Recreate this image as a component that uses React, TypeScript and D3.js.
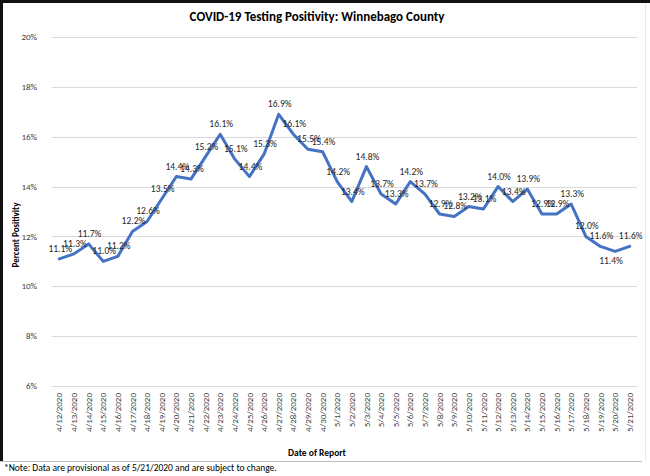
import React, { useEffect, useRef } from 'react';
import * as d3 from 'd3';

const dates = [
  '4/12/2020', '4/13/2020', '4/14/2020', '4/15/2020', '4/16/2020', '4/17/2020', '4/18/2020',
  '4/19/2020', '4/20/2020', '4/21/2020', '4/22/2020', '4/23/2020', '4/24/2020', '4/25/2020',
  '4/26/2020', '4/27/2020', '4/28/2020', '4/29/2020', '4/30/2020', '5/1/2020', '5/2/2020',
  '5/3/2020', '5/4/2020', '5/5/2020', '5/6/2020', '5/7/2020', '5/8/2020', '5/9/2020',
  '5/10/2020', '5/11/2020', '5/12/2020', '5/13/2020', '5/14/2020', '5/15/2020', '5/16/2020',
  '5/17/2020', '5/18/2020', '5/19/2020', '5/20/2020', '5/21/2020',
];

const positivity = [
  11.1, 11.3, 11.7, 11.0, 11.2, 12.2, 12.6, 13.5, 14.4, 14.3, 15.2, 16.1, 15.1, 14.4,
  15.3, 16.9, 16.1, 15.5, 15.4, 14.2, 13.4, 14.8, 13.7, 13.3, 14.2, 13.7, 12.9, 12.8,
  13.2, 13.1, 14.0, 13.4, 13.9, 12.9, 12.9, 13.3, 12.0, 11.6, 11.4, 11.6,
];

const yTicks = [6, 8, 10, 12, 14, 16, 18, 20];

// labels Excel pushed under the line
const labelsBelow = ['5/20/2020'];

const FONT = 'Carlito, Lato, "Liberation Sans", sans-serif';

const App: React.FC = () => {
  const svgRef = useRef<SVGSVGElement>(null);

  useEffect(() => {
    if (!svgRef.current) return;
    const svg = d3.select(svgRef.current);
    svg.selectAll('*').remove();

    const W = 650, H = 476;
    const left = 52, right = 637, top = 37, bottom = 386;

    svg.append('rect').attr('width', W).attr('height', H).attr('fill', '#fff');

    // frame
    svg.append('line').attr('x1', 0).attr('x2', W).attr('y1', 1.5).attr('y2', 1.5)
      .attr('stroke', '#111').attr('stroke-width', 3);
    svg.append('line').attr('x1', 1.5).attr('x2', 1.5).attr('y1', 0).attr('y2', 461)
      .attr('stroke', '#111').attr('stroke-width', 3);
    svg.append('line').attr('x1', 0).attr('x2', 642).attr('y1', 461.5).attr('y2', 461.5)
      .attr('stroke', '#bfbfbf').attr('stroke-width', 1);
    svg.append('line').attr('x1', 645.5).attr('x2', 645.5).attr('y1', 3).attr('y2', 461)
      .attr('stroke', '#e6e6e6').attr('stroke-width', 1);

    const x = d3.scaleBand<string>().domain(dates).range([left, right]);
    const y = d3.scaleLinear().domain([6, 20]).range([bottom, top]);
    const cx = (d: string) => (x(d) ?? 0) + x.bandwidth() / 2;

    // grid
    svg.append('g').selectAll('line').data(yTicks).enter().append('line')
      .attr('x1', left).attr('x2', right)
      .attr('y1', d => Math.round(y(d)) + 0.5).attr('y2', d => Math.round(y(d)) + 0.5)
      .attr('stroke', '#d9d9d9').attr('stroke-width', 1);

    svg.append('g').selectAll('text').data(yTicks).enter().append('text')
      .attr('x', 37).attr('y', d => y(d)).attr('dy', '0.35em')
      .attr('text-anchor', 'end')
      .attr('fill', '#404040').style('font-size', '9px').style('font-family', FONT)
      .text(d => `${d}%`);

    // x tick labels
    svg.append('g').selectAll('text').data(dates).enter().append('text')
      .attr('transform', d => `translate(${cx(d)},393) rotate(-90)`)
      .attr('dy', '0.35em').attr('text-anchor', 'end')
      .attr('fill', '#404040').style('font-size', '9px').style('font-family', FONT)
      .text(d => d);

    // line
    const line = d3.line<number>()
      .x((_, i) => cx(dates[i]))
      .y(d => y(d));
    svg.append('path').datum(positivity)
      .attr('d', line)
      .attr('fill', 'none').attr('stroke', '#4472c4').attr('stroke-width', 3)
      .attr('stroke-linejoin', 'round').attr('stroke-linecap', 'round');

    // data labels
    svg.append('g').selectAll('text').data(positivity).enter().append('text')
      .attr('x', (_, i) => cx(dates[i]) + (labelsBelow.includes(dates[i]) ? -4 : 1))
      .attr('y', (d, i) => y(d) + (labelsBelow.includes(dates[i]) ? 13 : -7))
      .attr('text-anchor', 'middle')
      .attr('fill', '#262626').style('font-size', '9.5px').style('font-family', FONT)
      .text(d => `${d.toFixed(1)}%`);

    // titles
    svg.append('text').attr('x', 317).attr('y', 21).attr('text-anchor', 'middle')
      .attr('fill', '#000').style('font-size', '13px').style('font-weight', 'bold')
      .style('font-family', FONT)
      .text('COVID-19 Testing Positivity: Winnebago County');

    svg.append('text').attr('transform', 'translate(16,235) rotate(-90)')
      .attr('dy', '0.35em').attr('text-anchor', 'middle')
      .attr('fill', '#000').style('font-size', '9px').style('font-weight', 'bold')
      .style('font-family', FONT)
      .text('Percent Positivity');

    svg.append('text').attr('x', 317).attr('y', 456).attr('text-anchor', 'middle')
      .attr('fill', '#000').style('font-size', '9.5px').style('font-weight', 'bold')
      .style('font-family', FONT)
      .text('Date of Report');

    svg.append('text').attr('x', 4).attr('y', 471)
      .attr('fill', '#000').style('font-size', '9.5px').style('font-family', FONT)
      .text('*Note: Data are provisional as of 5/21/2020 and are subject to change.');
  }, []);

  return (
    <svg ref={svgRef} width={650} height={476}
      style={{ position: 'absolute', left: 0, top: 0, display: 'block' }} />
  );
};

export default App;
